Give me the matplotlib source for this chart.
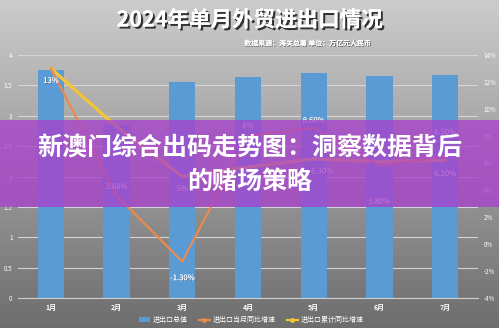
import numpy as np
import matplotlib
matplotlib.use("Agg")
import matplotlib.pyplot as plt
import matplotlib.patheffects as pe
from matplotlib.lines import Line2D
from matplotlib.patches import Patch

plt.rcParams['font.family'] = ['Noto Sans CJK SC', 'DejaVu Sans']

# ---- data ----
months = ["1月", "2月", "3月", "4月", "5月", "6月", "7月"]
total_value = [3.75, 2.85, 3.56, 3.64, 3.70, 3.65, 3.67]          # 万亿元
monthly_yoy = [13.0, 3.6, -1.3, 8.0, 8.6, 5.8, 6.5]                # %
cumulative_yoy = [13.0, 8.7, 5.0, 5.7, 6.3, 6.1, 6.2]              # %
monthly_labels = ["13%", "3.60%", "-1.30%", "8%", "8.60%", "5.80%", "6.50%"]
cumulative_labels = [None, None, "5%", None, "6.30%", None, "6.20%"]
left_ticks = [0, 0.5, 1, 1.5, 2, 2.5, 3, 3.5, 4]
right_ticks = [-4, -2, 0, 2, 4, 6, 8, 10, 12, 14]

title = "2024年单月外贸进出口情况"
subtitle = "数据来源：海关总署 单位：万亿元人民币"
banner_lines = ["新澳门综合出码走势图：洞察数据背后", "的赌场策略"]
legend_names = ["进出口总值", "进出口当月同比增速", "进出口累计同比增速"]

# label offsets (points) for each series
monthly_off = [(0, -9), (0, 6), (0, -12), (0, 7), (0, 5), (0, -26), (0, 17)]
cumulative_off = [(0, 0), (0, 0), (0, -9), (0, 0), (6, -9), (0, 0), (0, -10)]

BLUE = "#5b9bd5"
ORANGE = "#e98a4e"
YELLOW = "#f2c436"

fig = plt.figure(figsize=(4.99, 3.28), dpi=100)

# gray vertical gradient background
bg = fig.add_axes([0, 0, 1, 1], zorder=0)
grad = np.linspace(0, 1, 256)[:, None]
top = np.array([0.80, 0.80, 0.80])
bot = np.array([0.43, 0.43, 0.43])
img = top[None, None, :] * (1 - grad[..., None]) + bot[None, None, :] * grad[..., None]
bg.imshow(img, aspect="auto", extent=[0, 1, 0, 1])
bg.set_axis_off()

ax = fig.add_axes([18 / 499, 30 / 328, 460 / 499, 243 / 328], zorder=1)
ax.patch.set_alpha(0)
x = np.arange(len(months))
ax.bar(x, total_value, width=0.4, color=BLUE, zorder=2)
ax.set_xlim(-0.5, len(months) - 0.5)
ax.set_ylim(0, 4)
ax.set_yticks(left_ticks)
ax.set_yticklabels([f"{t:g}" for t in left_ticks])
ax.grid(axis="y", color="#d4d4d4", linewidth=0.8, zorder=0)
ax.set_axisbelow(True)
for s in ["top", "right", "left"]:
    ax.spines[s].set_visible(False)
ax.spines["bottom"].set_color("#cfcfcf")
ax.tick_params(axis="both", length=0, colors="white", labelsize=4.5, pad=4)
ax.set_xticks(x)
ax.set_xticklabels(months, fontsize=5, fontweight="bold", color="white")

ax2 = ax.twinx()
ax2.set_ylim(-4, 14)
ax2.set_yticks(right_ticks)
ax2.set_yticklabels([f"{t}%" for t in right_ticks])
ax2.tick_params(axis="y", length=0, colors="white", labelsize=4.5, pad=4)
for s in ax2.spines.values():
    s.set_visible(False)
ax2.plot(x, cumulative_yoy, color=YELLOW, linewidth=2.4, zorder=3)
ax2.plot(x, monthly_yoy, color=ORANGE, linewidth=1.6, zorder=4)

shadow = [pe.withSimplePatchShadow(offset=(0.5, -0.5), shadow_rgbFace="#444444", alpha=0.6), pe.Normal()]
for i, (v, lab) in enumerate(zip(monthly_yoy, monthly_labels)):
    ax2.annotate(lab, (x[i], v), xytext=monthly_off[i], textcoords="offset points",
                 ha="center", va="center", fontsize=5.5, color="white", path_effects=shadow, zorder=5)
for i, (v, lab) in enumerate(zip(cumulative_yoy, cumulative_labels)):
    if lab:
        ax2.annotate(lab, (x[i], v), xytext=cumulative_off[i], textcoords="offset points",
                     ha="center", va="center", fontsize=5.5, color="white", path_effects=shadow, zorder=5)

# title block
fig.text(0.5, 1 - 20 / 328, title, ha="center", va="center", fontsize=15.5, fontweight="bold",
         color="white",
         path_effects=[pe.withSimplePatchShadow(offset=(1.5, -1.5), shadow_rgbFace="black", alpha=0.75),
                       pe.Normal()])
fig.text(372 / 499, 1 - 43 / 328, subtitle, ha="right", va="center", fontsize=5,
         fontweight="bold", color="white",
         path_effects=[pe.withSimplePatchShadow(offset=(0.5, -0.5), shadow_rgbFace="black", alpha=0.6),
                       pe.Normal()])

# legend
handles = [Patch(facecolor=BLUE, edgecolor="none"),
           Line2D([0], [0], color=ORANGE, lw=1.6, marker="o", markersize=2.5),
           Line2D([0], [0], color=YELLOW, lw=1.6, marker="o", markersize=2.5)]
leg = fig.legend(handles, legend_names, loc="center", bbox_to_anchor=(251 / 499, 1 - 320 / 328), ncol=3,
                 frameon=False, fontsize=5, handlelength=1.6, handleheight=0.7, columnspacing=1.6,
                 handletextpad=0.4)
for t in leg.get_texts():
    t.set_color("white")

# overlay banner
banner = fig.add_axes([0, 1 - 207 / 328, 1, 87 / 328], zorder=5)
banner.set_xlim(0, 1)
banner.set_ylim(0, 1)
banner.add_patch(plt.Rectangle((0, 0), 1, 1, color="#a842cc", alpha=0.78, lw=0))
banner.set_axis_off()
fig.text(0.5, 1 - 148 / 328, banner_lines[0], ha="center", va="center", fontsize=18,
         fontweight="black", color="white", zorder=10)
fig.text(0.5, 1 - 182 / 328, banner_lines[1], ha="center", va="center", fontsize=18,
         fontweight="black", color="white", zorder=10)

fig.savefig("out.png", dpi=100)
